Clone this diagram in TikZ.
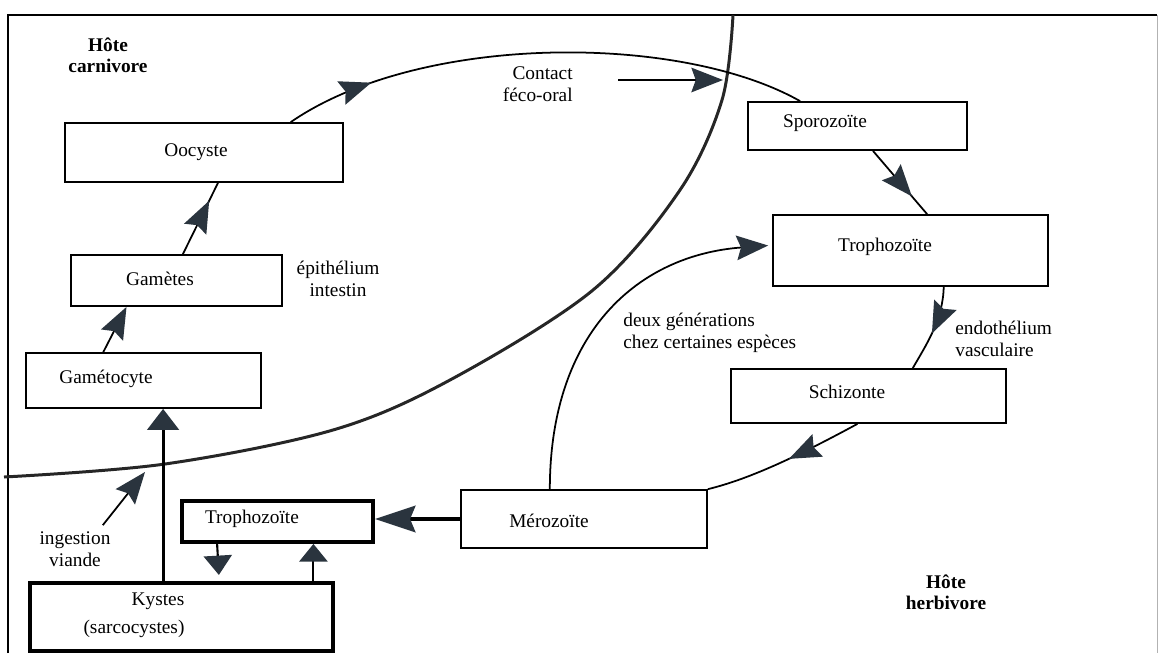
\documentclass[tikz,border=0pt]{standalone}
\usepackage{fontspec}
\setmainfont{Liberation Serif}
\usetikzlibrary{arrows.meta,calc,decorations.markings}
\definecolor{tipc}{RGB}{42,52,62}
\tikzset{
  box/.style={draw, line width=1pt, inner sep=0pt},
  thickbox/.style={box, line width=2.2pt},
  txt/.style={font=\fontsize{11}{12.5}\selectfont, inner sep=0pt},
  hote/.style={inner sep=0pt, font=\fontsize{11}{12}\selectfont\bfseries, align=center},
  bigtip/.tip={Stealth[length=18pt,width=14pt,inset=2.5pt,color=tipc,fill=tipc]},
  arr/.style={line width=1pt, -{bigtip}},
  midarr/.style={line width=1pt, postaction={decorate},
    decoration={markings, mark=at position #1 with {\arrow{bigtip}}}},
  border/.style={line width=1.7pt, draw=black!85}
}
\begin{document}
\begin{tikzpicture}[x=0.02cm, y=-0.02cm]
\useasboundingbox (0,0) rectangle (1158,653);
% cadre
\draw[line width=1.1pt] (8,653) -- (8,15) -- (1157,15);
\draw[black!30] (1157,15) -- (1157,653);

% hote carnivore
\node[box, minimum width=5.56cm, minimum height=1.18cm] (oocyste) at (204,152.5) {};
\node[txt] (oocysteT) at (196,152) {Oocyste};
\node[box, minimum width=4.22cm, minimum height=1.02cm] (gametes) at (176.5,280.5) {};
\node[txt] (gametesT) at (160,279) {Gamètes};
\node[box, minimum width=4.70cm, minimum height=1.10cm] (gametocyte) at (143.5,380.5) {};
\node[txt] (gametocyteT) at (106,379) {Gamétocyte};

% hote herbivore
\node[box, minimum width=4.38cm, minimum height=0.96cm] (sporo) at (857.5,126) {};
\node[txt] (sporoT) at (825,123) {Sporozoïte};
\node[box, minimum width=5.50cm, minimum height=1.42cm] (trophoA) at (910.5,250.5) {};
\node[txt] (trophoAT) at (885,247) {Trophozoïte};
\node[box, minimum width=5.50cm, minimum height=1.08cm] (schizonte) at (868.5,396) {};
\node[txt] (schizonteT) at (847,392) {Schizonte};
\node[box, minimum width=4.92cm, minimum height=1.16cm] (merozoite) at (584,519) {};
\node[txt] (merozoiteT) at (549,521) {Mérozoïte};
\node[thickbox, minimum width=3.82cm, minimum height=0.82cm] (trophoB) at (277.5,521.5) {};
\node[txt] (trophoBT) at (252,519) {Trophozoïte};
\node[thickbox, minimum width=6.06cm, minimum height=1.36cm] (kystes) at (181.5,617) {};
\node[txt] (kystesT) at (158,601) {Kystes};
\node[txt] (sarcoT) at (134,629) {(sarcocystes)};

% textes
\node[hote] (carnivore) at (108,55) {Hôte\\carnivore};
\node[hote] (herbivore) at (946,592) {Hôte\\herbivore};
\node[txt, align=right, anchor=east] (contact) at (573,84) {Contact\\féco-oral};
\node[txt, align=center] (epith) at (338,279) {épithélium\\intestin};
\node[txt, align=left, anchor=west] (deux) at (623,333) {deux générations\\chez certaines espèces};
\node[txt, align=left, anchor=west] (endo) at (955,339) {endothélium\\vasculaire};
\node[txt, align=center] (ingestion) at (75,549) {ingestion\\viande};

% limite entre les hotes
\draw[border] plot[smooth, tension=0.55] coordinates {(4,477) (165,464) (333,430) (450,380) (593,290) (680,190) (722,100) (733,15)};

% cycle
\draw[midarr=0.17] ($(oocyste.north west)!0.81!(oocyste.north east)$) .. controls (420,33) and (680,33) .. ($(sporo.north west)!0.24!(sporo.north east)$);
\coordinate (fecoA) at (618,80);
\coordinate (fecoB) at (723,80);
\draw[arr] (fecoA) -- (fecoB);
\draw[midarr=0.72] ($(sporo.south west)!0.57!(sporo.south east)$) -- ($(trophoA.north west)!0.56!(trophoA.north east)$);
\draw[midarr=0.55] ($(trophoA.south west)!0.62!(trophoA.south east)$) .. controls (943,320) and (926,345) .. ($(schizonte.north west)!0.66!(schizonte.north east)$);
\draw[midarr=0.47] ($(schizonte.south west)!0.46!(schizonte.south east)$) .. controls (800,455) and (750,479) .. (merozoite.north east);
\draw[arr] ($(merozoite.north west)!0.362!(merozoite.north east)$) .. controls (550,330) and (640,255) .. ($(trophoA.west)+(-4,-5)$);
\draw[line width=2.4pt, -{Stealth[length=23pt,width=15pt,inset=3pt,color=tipc,fill=tipc]}] (merozoite.west) -- (merozoite.west -| trophoB.east);
\draw[line width=1.2pt, -{Triangle[length=11pt,width=16pt,color=tipc,fill=tipc]}, shorten >=3.5pt] ($(trophoB.south west)!0.19!(trophoB.south east)$) -- ($(kystes.north west)!0.623!(kystes.north east)$ |- kystes.north);
\coordinate (kb) at ($(kystes.north west)!0.93!(kystes.north east)$);
\draw[line width=1.2pt, -{Triangle[length=10pt,width=16pt,color=tipc,fill=tipc]}] (kb) -- (kb |- trophoB.south);
\coordinate (ka) at ($(kystes.north west)!0.44!(kystes.north east)$);
\draw[line width=1.8pt, -{Triangle[length=12pt,width=18pt,color=tipc,fill=tipc]}] (ka) -- (ka |- gametocyte.south);
\draw[arr] ($(gametocyte.north west)!0.33!(gametocyte.north east)$) -- ($(gametes.south west)!0.265!(gametes.south east)$);
\draw[midarr=0.75] ($(gametes.north west)!0.53!(gametes.north east)$) -- ($(oocyste.south west)!0.55!(oocyste.south east)$);
\coordinate (ingest) at (145,472);
\draw[arr] ($(ingestion.north east)+(-8,-6)$) -- (ingest);
\end{tikzpicture}
\end{document}
